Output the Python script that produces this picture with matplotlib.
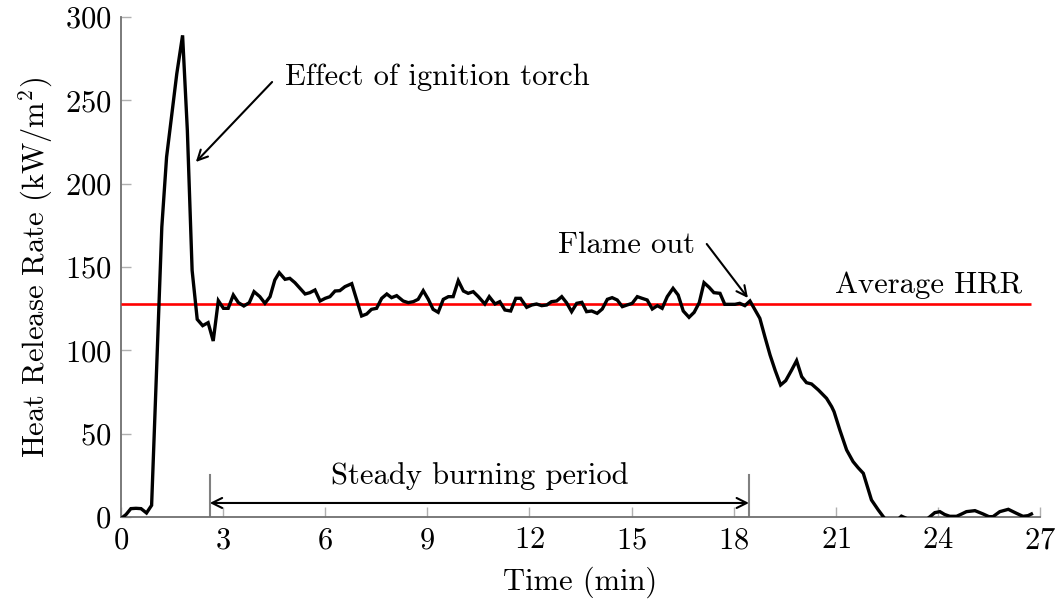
import matplotlib as mpl
import matplotlib.pyplot as plt
import numpy as np

mpl.rcParams['font.family'] = 'cmr10'
mpl.rcParams['mathtext.fontset'] = 'cm'
mpl.rcParams['axes.formatter.use_mathtext'] = True
mpl.rcParams['font.size'] = 22

# Heat release rate record (time in min, HRR in kW/m^2)
time_min = [
    0.00, 0.15, 0.29, 0.44, 0.59, 0.75, 0.90, 1.05, 1.20, 1.34, 1.49, 1.64, 1.81, 1.95,
    2.09, 2.24, 2.40, 2.56, 2.71, 2.86, 3.01, 3.15, 3.30, 3.45, 3.61, 3.77, 3.91, 4.08,
    4.23, 4.38, 4.52, 4.65, 4.82, 4.96, 5.11, 5.26, 5.41, 5.55, 5.70, 5.85, 6.00, 6.14,
    6.29, 6.43, 6.58, 6.78, 7.07, 7.22, 7.36, 7.51, 7.66, 7.81, 7.95, 8.10, 8.29, 8.44,
    8.59, 8.73, 8.88, 9.03, 9.17, 9.32, 9.47, 9.62, 9.76, 9.91, 10.06, 10.20, 10.35,
    10.50, 10.69, 10.82, 10.99, 11.13, 11.28, 11.45, 11.60, 11.74, 11.92, 12.07, 12.21,
    12.36, 12.51, 12.65, 12.80, 12.95, 13.09, 13.24, 13.39, 13.54, 13.68, 13.83, 13.99,
    14.14, 14.29, 14.43, 14.58, 14.73, 14.87, 15.02, 15.17, 15.31, 15.46, 15.61, 15.76,
    15.90, 16.05, 16.22, 16.37, 16.52, 16.69, 16.84, 16.99, 17.13, 17.28, 17.42, 17.60,
    17.74, 17.89, 18.04, 18.18, 18.33, 18.48, 18.63, 18.77, 18.92, 19.07, 19.22, 19.38,
    19.53, 19.70, 19.85, 20.00, 20.14, 20.29, 20.49, 20.73, 20.88, 20.95, 21.12, 21.32,
    21.51, 21.66, 21.81, 22.05, 22.25, 22.44, 22.60, 22.80, 22.93, 23.20, 23.45, 23.70,
    23.91, 24.06, 24.20, 24.35, 24.55, 24.70, 24.84, 25.09, 25.33, 25.50, 25.62, 25.82,
    26.07, 26.31, 26.50, 26.65, 26.75,
]
hrr = [
    -1.0, 1.5, 5.0, 5.2, 5.0, 2.4, 7.0, 90.0, 174.0, 216.0, 241.0, 266.0, 289.0, 232.0,
    148.0, 118.6, 114.8, 116.6, 105.6, 129.8, 125.2, 125.2, 133.2, 128.6, 126.6, 128.6, 135.2, 132.2,
    128.2, 132.2, 142.2, 146.6, 142.6, 143.2, 140.6, 137.2, 133.8, 134.6, 136.2, 129.6, 131.2, 132.2,
    135.6, 135.8, 138.2, 140.0, 120.6, 121.8, 124.6, 125.2, 131.2, 133.8, 131.6, 132.8, 129.6, 128.6,
    129.2, 130.6, 135.8, 130.6, 124.6, 122.8, 130.6, 132.2, 132.2, 141.8, 135.6, 134.2, 135.2,
    132.2, 127.8, 132.2, 127.8, 129.2, 124.2, 123.6, 131.2, 131.2, 125.8, 127.2, 127.8,
    126.8, 127.2, 129.2, 129.6, 132.2, 128.6, 123.2, 128.2, 128.8, 123.2, 123.6, 122.2,
    124.8, 130.6, 131.6, 130.2, 126.2, 127.2, 128.2, 132.2, 131.2, 130.2, 124.8, 126.8,
    125.2, 132.2, 137.2, 133.2, 123.6, 119.8, 122.8, 128.6, 140.6, 137.8, 134.6, 134.2,
    127.6, 127.6, 127.6, 128.2, 126.8, 129.6, 124.2, 119.2, 108.0, 97.2, 88.0, 79.2,
    81.8, 88.0, 93.8, 84.2, 80.6, 79.8, 76.2, 71.2, 66.2, 63.2, 52.2, 40.2,
    33.2, 29.5, 26.2, 10.2, 4.2, -1.0, -3.0, -2.0, 0.5, -2.0, -3.0, -1.0,
    2.6, 3.2, 1.5, 0.4, 0.4, 1.8, 3.2, 3.8, 1.8, 0.2, 0.2, 3.2,
    4.6, 2.2, 0.4, 0.8, 1.8,
]
avg_hrr = 128.0
steady_start, steady_end = 2.61, 18.45

x_ticks = [0, 3, 6, 9, 12, 15, 18, 21, 24, 27]
y_ticks = [0, 50, 100, 150, 200, 250, 300]

fig = plt.figure(figsize=(10.64, 6.01), dpi=100)
ax = fig.add_axes([0.1137, 0.1398, 0.8637, 0.8319])

ax.plot(time_min, hrr, color='black', linewidth=2.4, zorder=4,
        solid_joinstyle='miter')
ax.hlines(avg_hrr, time_min[0], time_min[-1], color='red', linewidth=1.9, zorder=3)

ax.set_xlim(0, 27)
ax.set_ylim(0, 300)
ax.set_xticks(x_ticks)
ax.set_yticks(y_ticks)

for side in ['top', 'right']:
    ax.spines[side].set_visible(False)
for side in ['left', 'bottom']:
    ax.spines[side].set_color('#707070')
    ax.spines[side].set_linewidth(1.3)
ax.tick_params(direction='in', length=7, width=1.0, color='#b0b0b0', pad=7)

ax.set_xlabel('Time (min)', labelpad=9)
ax.set_ylabel(r'Heat Release Rate (kW/$\mathrm{m}^2$)', labelpad=7)

arrow = dict(arrowstyle='->', color='black', lw=1.5, shrinkA=0, shrinkB=0,
             mutation_scale=18)

# ignition torch peak
ax.annotate('', xy=(2.20, 213), xytext=(4.44, 261), arrowprops=arrow)
ax.text(4.82, 264, 'Effect of ignition torch', ha='left', va='center')

# flame out
ax.annotate('', xy=(18.42, 131.4), xytext=(17.21, 163.8), arrowprops=arrow)
ax.text(16.86, 163, 'Flame out', ha='right', va='center')

ax.text(26.47, 139, 'Average HRR', ha='right', va='center')

# steady burning period
for xv in [steady_start, steady_end]:
    ax.plot([xv, xv], [0, 25], color='#808080', linewidth=1.5, zorder=2)
ax.annotate('', xy=(steady_end, 8.4), xytext=(steady_start, 8.4),
            arrowprops=dict(arrowstyle='<->', color='black', lw=1.5,
                            shrinkA=0, shrinkB=0, mutation_scale=18))
ax.text((steady_start + steady_end) / 2, 24.5, 'Steady burning period',
        ha='center', va='center')

plt.savefig('out.png', dpi=100)
